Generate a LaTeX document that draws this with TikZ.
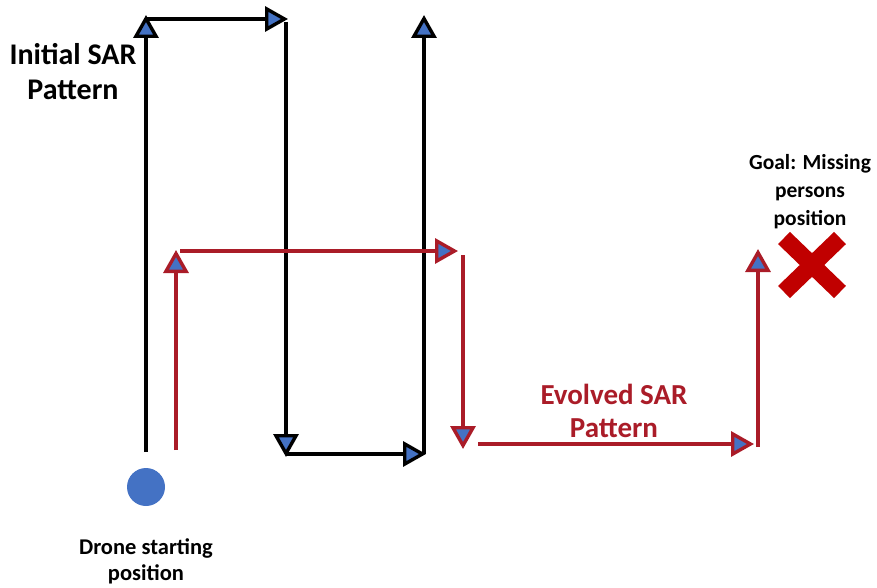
\documentclass[tikz,border=0pt]{standalone}
\usepackage{fontspec}
\setmainfont{Carlito}
\usetikzlibrary{arrows.meta}
\definecolor{arrblue}{RGB}{68,114,196}
\definecolor{pathred}{RGB}{170,28,40}
\definecolor{xred}{RGB}{192,0,0}
\begin{document}
\begin{tikzpicture}[x=1pt,y=-1pt,
  seg/.style={line width=3.4pt,-{Triangle[length=23pt,width=25pt,fill=arrblue,line width=3.4pt]}},
  blackseg/.style={seg,draw=black},
  redseg/.style={seg,draw=pathred},
  lbl/.style={font=\bfseries,align=center,inner sep=0pt}]
\useasboundingbox (0,0) rectangle (877,588);
% black pattern
\coordinate (b1) at (146,452);
\coordinate (b2) at (146,15);
\coordinate (b3) at (146,19);
\coordinate (b4) at (288,19);
\coordinate (b5) at (286,22);
\coordinate (b6) at (286,457);
\coordinate (b7) at (286,454);
\coordinate (b8) at (426,454);
\coordinate (b9) at (424,454);
\coordinate (b10) at (424,15);
\draw[blackseg] (b1) -- (b2);
\draw[blackseg] (b3) -- (b4);
\draw[blackseg] (b5) -- (b6);
\draw[blackseg] (b7) -- (b8);
\draw[blackseg] (b9) -- (b10);
% red pattern
\coordinate (r1) at (176,450);
\coordinate (r2) at (176,250);
\coordinate (r3) at (180,251);
\coordinate (r4) at (458,251);
\coordinate (r5) at (463,255);
\coordinate (r6) at (463,449);
\coordinate (r7) at (478,444);
\coordinate (r8) at (754,444);
\coordinate (r9) at (758,447);
\coordinate (r10) at (758,249);
\draw[redseg] (r1) -- (r2);
\draw[redseg] (r3) -- (r4);
\draw[redseg] (r5) -- (r6);
\draw[redseg] (r7) -- (r8);
\draw[redseg] (r9) -- (r10);
% drone
\node[circle,fill=arrblue,minimum size=38pt,inner sep=0pt] (drone) at (146,487) {};
% goal cross
\coordinate (x1) at (784,238);
\coordinate (x2) at (840,292);
\coordinate (x3) at (840,238);
\coordinate (x4) at (784,292);
\draw[xred,line width=17pt] (x1) -- (x2);
\draw[xred,line width=17pt] (x3) -- (x4);
% labels
\node[lbl,font=\bfseries\fontsize{30}{35}\selectfont] (init) at (73,72) {Initial SAR\\Pattern};
\node[lbl,text=pathred,font=\bfseries\fontsize{29}{33}\selectfont] (evol) at (614,411) {Evolved SAR\\Pattern};
\node[lbl,font=\bfseries\fontsize{21.5}{28}\selectfont] (goal) at (810,192) {Goal: Missing\\persons\\position};
\node[lbl,font=\bfseries\fontsize{22.5}{26}\selectfont] (dlbl) at (146,561) {Drone starting\\position};
\end{tikzpicture}
\end{document}
